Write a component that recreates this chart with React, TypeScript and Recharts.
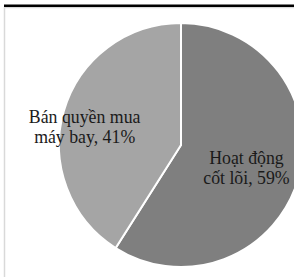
import { Cell, Pie, PieChart } from "recharts";

const categories = ["Hoạt động cốt lõi", "Bán quyền mua máy bay"];
const shares = [59, 41];
const firstLines = ["Hoạt động", "Bán quyền mua"];

const sliceColors = ["#7f7f7f", "#a5a5a5"];
// where each label sits: fraction of the radius, and a small angle tweak (deg)
const labelPlacement = [
    { radius: 0.587, turn: -7.7 },
    { radius: 0.796, turn: 8.9 },
];

const data = categories.map((name, i) => ({ name, value: shares[i] }));

const RADIAN = Math.PI / 180;

function renderLabel(props: any) {
    const { cx, cy, midAngle, outerRadius, index } = props;
    const place = labelPlacement[index];
    const angle = (midAngle + place.turn) * RADIAN;
    const r = outerRadius * place.radius;
    const x = cx + r * Math.cos(angle);
    const y = cy - r * Math.sin(angle);
    const first = firstLines[index];
    const rest = categories[index].slice(first.length).trim();
    return (
        <text
            x={x}
            y={y}
            textAnchor="middle"
            fontFamily="'Liberation Serif', 'Times New Roman', serif"
            fontSize={17.8}
            fill="#1a1a1a"
        >
            <tspan x={x} y={y - 10}>{first}</tspan>
            <tspan x={x} y={y + 10}>{`${rest}, ${shares[index]}%`}</tspan>
        </text>
    );
}

export default function App() {
    return (
        <div style={{ position: "fixed", left: 0, top: 0, width: 294, height: 277, overflow: "hidden", background: "#fff" }}>
            <div style={{ position: "absolute", left: 0, top: 0 }}>
                <PieChart width={294} height={277} margin={{ top: 0, right: 0, bottom: 0, left: 0 }}>
                    <Pie
                        data={data}
                        dataKey="value"
                        nameKey="name"
                        cx={181}
                        cy={145}
                        outerRadius={122}
                        startAngle={90}
                        endAngle={-270}
                        stroke="#ffffff"
                        strokeWidth={2}
                        label={renderLabel}
                        labelLine={false}
                        isAnimationActive={false}
                    >
                        {data.map((entry, i) => (
                            <Cell key={entry.name} fill={sliceColors[i]} />
                        ))}
                    </Pie>
                </PieChart>
            </div>
            <svg width={294} height={277} style={{ position: "absolute", left: 0, top: 0, zIndex: 5 }}>
                <rect x={4.5} y={7.5} width={300} height={300} fill="none" stroke="#d9d9d9" strokeWidth={1.5} />
                <rect x={4} y={4.5} width={290} height={2.5} fill="#000000" />
            </svg>
        </div>
    );
}
